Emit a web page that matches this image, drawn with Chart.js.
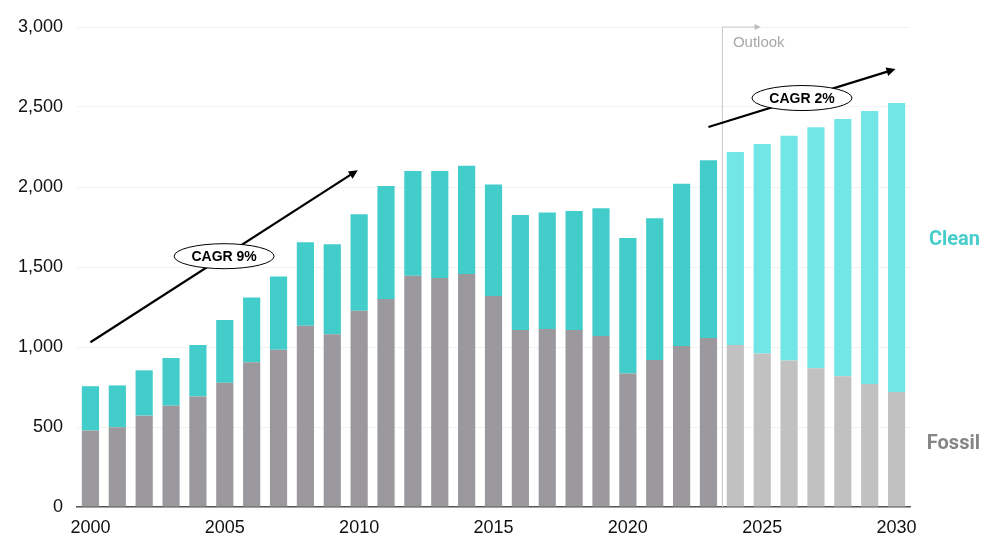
<!DOCTYPE html>
<html lang="en">
<head>
<meta charset="UTF-8">
<script src="https://cdn.jsdelivr.net/npm/chart.js"></script>
<title>Fossil vs Clean</title>
<style>
  html, body { margin: 0; padding: 0; background: #fff; }
  #wrap { width: 1000px; height: 552px; }
</style>
</head>
<body>
<div id="wrap"><canvas id="grafico"></canvas></div>
<script>
const years = [];
for (let y = 2000; y <= 2030; y++) years.push(String(y));

const fossil = [478, 498, 571, 633, 690, 777, 904, 983, 1133, 1079, 1227, 1300, 1446, 1431, 1456, 1319,
  1106, 1112, 1106, 1069, 835, 919, 1006, 1056, 1012, 960, 915, 867, 817, 769, 719];
const total = [755, 760, 854, 931, 1012, 1169, 1310, 1440, 1654, 1642, 1829, 2006, 2100, 2100, 2133, 2015,
  1825, 1840, 1850, 1867, 1681, 1804, 2021, 2167, 2219, 2269, 2321, 2373, 2425, 2475, 2525];
const clean = total.map((t, i) => t - fossil[i]);

const yTicks = [0, 500, 1000, 1500, 2000, 2500, 3000];
const outlookStart = 24; // first projected year index

// arrows: [fromIndex, fromValue, toIndex, toValue, label]
const arrows = [
  [0, 1030, 9.95, 2105, 'CAGR 9%'],
  [23, 2375, 29.96, 2737, 'CAGR 2%']
];

const fossilColors = years.map((y, i) => i < outlookStart ? '#9b999e' : '#c1c1c1');
const cleanColors = years.map((y, i) => i < outlookStart ? '#42cdca' : '#72e6e6');

function arrowHead(ctx, x1, y1, x2, y2, size) {
    const a = Math.atan2(y2 - y1, x2 - x1);
    ctx.beginPath();
    ctx.moveTo(x2, y2);
    ctx.lineTo(x2 - size * Math.cos(a - 0.45), y2 - size * Math.sin(a - 0.45));
    ctx.lineTo(x2 - size * Math.cos(a + 0.45), y2 - size * Math.sin(a + 0.45));
    ctx.closePath();
    ctx.fill();
}

const anotaciones = {
    id: 'anotaciones',
    afterDatasetsDraw(chart) {
        const ctx = chart.ctx;
        const xs = chart.scales.x, ys = chart.scales.y;
        ctx.save();

        // outlook bracket
        const ox = xs.getPixelForValue(outlookStart - 0.5);
        const oy = ys.getPixelForValue(3000);
        ctx.strokeStyle = '#c8c8c8';
        ctx.fillStyle = '#bdbdbd';
        ctx.lineWidth = 1;
        ctx.beginPath();
        ctx.moveTo(ox + 0.5, ys.getPixelForValue(0));
        ctx.lineTo(ox + 0.5, oy);
        ctx.lineTo(ox + 34, oy);
        ctx.stroke();
        arrowHead(ctx, ox, oy, ox + 39, oy, 7);
        ctx.font = '15px "Liberation Sans", Arial, sans-serif';
        ctx.fillStyle = '#a8a8a8';
        ctx.textAlign = 'left';
        ctx.textBaseline = 'middle';
        ctx.fillText('Outlook', ox + 11, oy + 16);

        // CAGR arrows
        arrows.forEach(([i1, v1, i2, v2, label]) => {
            const x1 = xs.getPixelForValue(i1), y1 = ys.getPixelForValue(v1);
            const x2 = xs.getPixelForValue(i2), y2 = ys.getPixelForValue(v2);
            ctx.strokeStyle = '#000';
            ctx.fillStyle = '#000';
            ctx.lineWidth = 2.2;
            const a = Math.atan2(y2 - y1, x2 - x1);
            ctx.beginPath();
            ctx.moveTo(x1, y1);
            ctx.lineTo(x2 - 6 * Math.cos(a), y2 - 6 * Math.sin(a));
            ctx.stroke();
            arrowHead(ctx, x1, y1, x2, y2, 10);

            const mx = (x1 + x2) / 2, my = (y1 + y2) / 2;
            ctx.beginPath();
            ctx.ellipse(mx, my, 50, 12.5, 0, 0, Math.PI * 2);
            ctx.fillStyle = '#fff';
            ctx.fill();
            ctx.lineWidth = 1;
            ctx.stroke();
            ctx.fillStyle = '#000';
            ctx.font = 'bold 14px "Liberation Sans", Arial, sans-serif';
            ctx.textAlign = 'center';
            ctx.textBaseline = 'middle';
            ctx.fillText(label, mx, my + 1);
        });

        // series labels
        ctx.textAlign = 'right';
        ctx.textBaseline = 'middle';
        ctx.font = 'bold 20px Roboto, sans-serif';
        ctx.fillStyle = '#47cdca';
        ctx.fillText('Clean', 980, ys.getPixelForValue(1670));
        ctx.fillStyle = '#858585';
        ctx.fillText('Fossil', 980, ys.getPixelForValue(395));
        ctx.restore();
    }
};

new Chart(document.getElementById('grafico'), {
    type: 'bar',
    data: {
        labels: years,
        datasets: [{
            label: 'Fossil',
            data: fossil,
            backgroundColor: fossilColors,
            categoryPercentage: 1,
            barPercentage: 0.64
        }, {
            label: 'Clean',
            data: clean,
            backgroundColor: cleanColors,
            categoryPercentage: 1,
            barPercentage: 0.64
        }]
    },
    options: {
        responsive: true,
        maintainAspectRatio: false,
        animation: false,
        layout: { padding: { top: 27, right: 90, bottom: 0, left: 0 } },
        plugins: {
            legend: { display: false },
            tooltip: { enabled: false }
        },
        scales: {
            x: {
                stacked: true,
                grid: { display: false, drawTicks: false },
                border: { display: true, color: '#555', width: 1.5 },
                ticks: {
                    autoSkip: false,
                    maxRotation: 0,
                    padding: 10,
                    color: '#111',
                    font: { family: '"Liberation Sans", Arial, sans-serif', size: 18 },
                    callback: function (v, i) { return (2000 + i) % 5 === 0 ? years[i] : ''; }
                },
                afterFit(scale) { scale.height = 45; }
            },
            y: {
                stacked: true,
                min: 0,
                max: 3000,
                afterBuildTicks(scale) { scale.ticks = yTicks.map(v => ({ value: v })); },
                grid: { color: '#f2f2f2', drawTicks: false },
                border: { display: false },
                ticks: {
                    padding: 14,
                    color: '#111',
                    font: { family: '"Liberation Sans", Arial, sans-serif', size: 18 },
                    callback: v => v.toLocaleString('en-US')
                },
                afterFit(scale) { scale.width = 77; }
            }
        }
    },
    plugins: [anotaciones]
});
</script>
</body>
</html>
